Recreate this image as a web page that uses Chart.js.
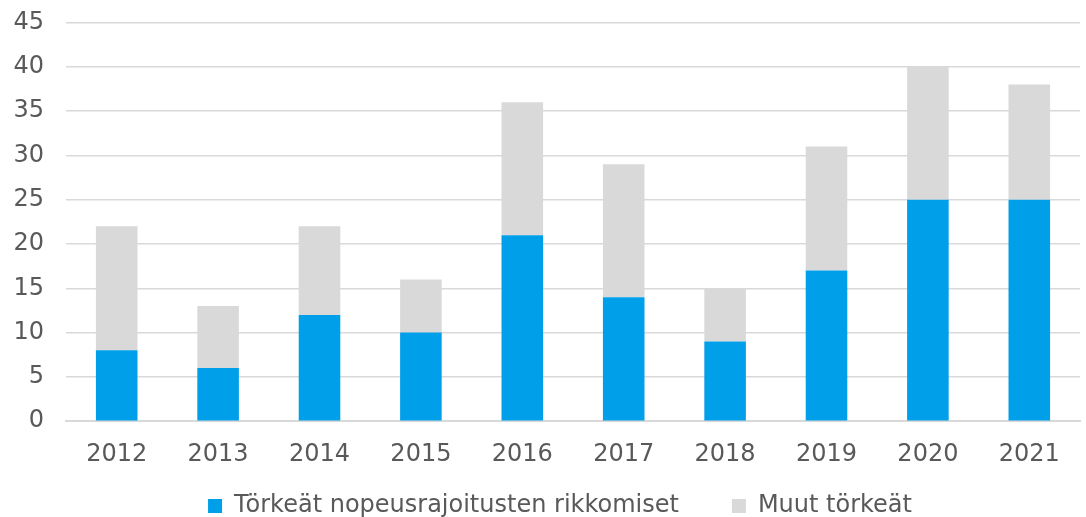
<!DOCTYPE html>
<html>
<head>
<meta charset="utf-8">
<script src="https://cdn.jsdelivr.net/npm/chart.js@4"></script>
<style>
  html, body { margin: 0; padding: 0; background: #fff; }
  #wrap { width: 1086px; height: 517px; }
</style>
</head>
<body>
<div id="wrap"><canvas id="chart"></canvas></div>
<script>
const years = ['2012', '2013', '2014', '2015', '2016', '2017', '2018', '2019', '2020', '2021'];
const speeding = [8, 6, 12, 10, 21, 14, 9, 17, 25, 25];
const other = [14, 7, 10, 6, 15, 15, 6, 14, 15, 13];

const FONT = "'DejaVu Sans', Verdana, sans-serif";
const TXT = '#595959';

// legend padding is used for both gaps, so keep the wide gap between items
// but squeeze the box height and move the drawing up / right a bit
const LEGEND_H = 29;
const LEGEND_UP = 47;
const LEGEND_RIGHT = 20;
const legendSqueeze = {
    id: 'legendSqueeze',
    afterInit(chart) {
        const legend = chart.legend;
        const fit = legend.fit;
        const draw = legend.draw;
        legend.fit = function () {
            fit.call(this);
            this.height = LEGEND_H;
        };
        legend.draw = function () {
            this.top -= LEGEND_UP;
            this.left += LEGEND_RIGHT;
            this.right += LEGEND_RIGHT;
            draw.call(this);
            this.top += LEGEND_UP;
            this.left -= LEGEND_RIGHT;
            this.right -= LEGEND_RIGHT;
        };
    }
};

new Chart(document.getElementById('chart'), {
    type: 'bar',
    data: {
        labels: years,
        datasets: [
            {
                label: 'Törkeät nopeusrajoitusten rikkomiset',
                data: speeding,
                backgroundColor: '#009FE9',
                barPercentage: 0.41,
                categoryPercentage: 1
            },
            {
                label: 'Muut törkeät',
                data: other,
                backgroundColor: '#D9D9D9',
                barPercentage: 0.41,
                categoryPercentage: 1
            }
        ]
    },
    options: {
        responsive: true,
        maintainAspectRatio: false,
        animation: false,
        layout: { padding: { top: 0, right: 6, left: 0, bottom: 0 } },
        scales: {
            x: {
                stacked: true,
                grid: { display: false, drawTicks: false },
                border: { display: true, color: '#D9D9D9', width: 2 },
                ticks: { color: TXT, font: { family: FONT, size: 24 }, padding: 19 }
            },
            y: {
                stacked: true,
                min: 0,
                max: 45,
                afterFit(scale) { scale.width = 66; },
                ticks: { stepSize: 5, color: TXT, font: { family: FONT, size: 24, lineHeight: 0.05 }, padding: 22 },
                grid: { color: '#D9D9D9', lineWidth: 1.5, drawTicks: false },
                border: { display: false }
            }
        },
        plugins: {
            legend: {
                position: 'bottom',
                labels: {
                    color: TXT,
                    font: { family: FONT, size: 24 },
                    boxWidth: 14,
                    boxHeight: 14,
                    padding: 53
                }
            },
            tooltip: { enabled: false }
        }
    },
    plugins: [legendSqueeze]
});
</script>
</body>
</html>
